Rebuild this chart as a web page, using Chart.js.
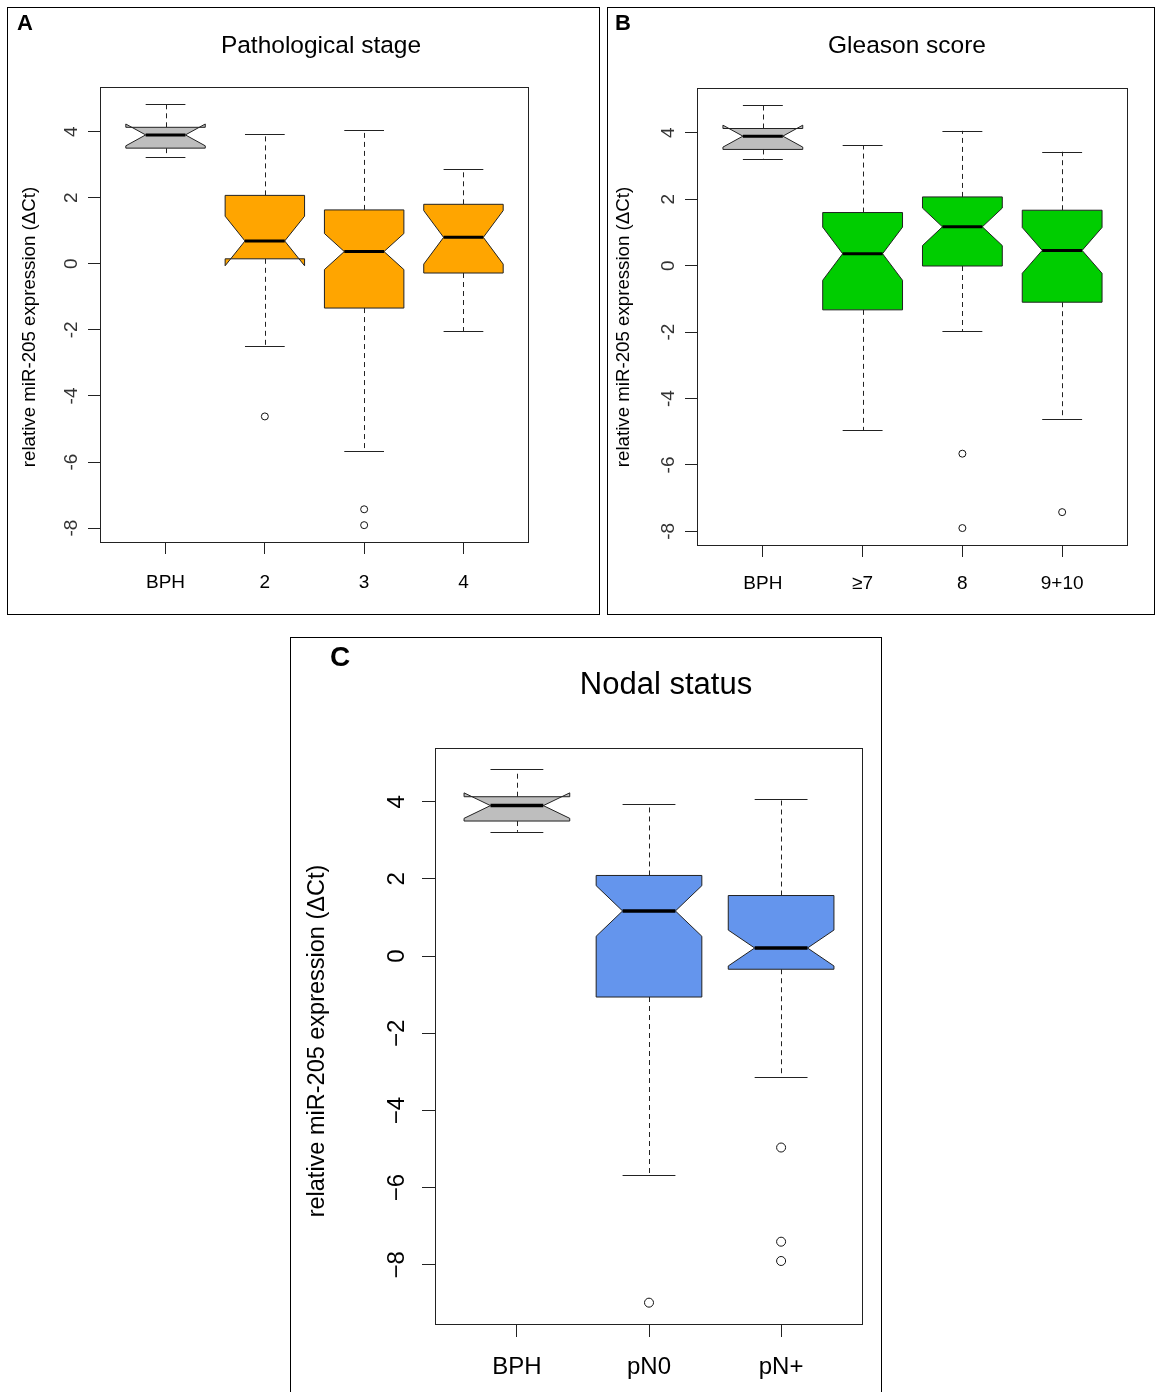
<!DOCTYPE html>
<html>
<head>
<meta charset="utf-8">
<script src="https://cdn.jsdelivr.net/npm/chart.js@4.4.1/dist/chart.umd.min.js"></script>
<style>
  html, body { margin: 0; padding: 0; background: #fff; overflow: hidden; width: 1155px; height: 1392px; }
  canvas { position: absolute; }
</style>
</head>
<body>
<canvas id="panelA" width="593" height="608" style="left:7px;top:7px"></canvas>
<canvas id="panelB" width="548" height="608" style="left:607px;top:7px"></canvas>
<canvas id="panelC" width="592" height="760" style="left:290px;top:637px"></canvas>
<script>
// ---- Panel A: pathological stage ----
const stageCategories = ['BPH', '2', '3', '4'];
const stageLow      = [3.22, -2.50, -5.68, -2.04];
const stageQ1       = [3.50,  0.15, -1.34, -0.28];
const stageMedian   = [3.90,  0.69,  0.37,  0.80];
const stageQ3       = [4.13,  2.07,  1.63,  1.80];
const stageHigh     = [4.84,  3.94,  4.05,  2.87];
const stageNotch    = [0.33,  0.75,  0.545, 0.81];   // half-height of the notch around the median
const stageOutliers = [[], [-4.62], [-7.43, -7.91], []];

// ---- Panel B: Gleason score ----
const gleasonCategories = ['BPH', '≥7', '8', '9+10'];
const gleasonLow      = [3.22, -4.95, -1.97, -4.61];
const gleasonQ1       = [3.50, -1.33, -0.01, -1.10];
const gleasonMedian   = [3.90,  0.36,  1.17,  0.46];
const gleasonQ3       = [4.13,  1.60,  2.07,  1.67];
const gleasonHigh     = [4.84,  3.63,  4.06,  3.43];
const gleasonNotch    = [0.33,  0.80,  0.565, 0.69];
const gleasonOutliers = [[], [], [-5.66, -7.90], [-7.42]];

// ---- Panel C: nodal status ----
const nodalCategories = ['BPH', 'pN0', 'pN+'];
const nodalLow      = [3.22, -5.66, -3.12];
const nodalQ1       = [3.50, -1.06, -0.34];
const nodalMedian   = [3.90,  1.17,  0.21];
const nodalQ3       = [4.13,  2.09,  1.57];
const nodalHigh     = [4.84,  3.94,  4.07];
const nodalNotch    = [0.33,  0.655, 0.465];
const nodalOutliers = [[], [-8.98], [-4.96, -7.40, -7.90]];

const yTickValues = [-8, -6, -4, -2, 0, 2, 4];
const yAxisTitle = 'relative miR-205 expression (ΔCt)';

const FONT = '"Liberation Sans", Arial, Helvetica, sans-serif';

// Notched box-and-whisker glyphs, placed through the chart's own x/y scales
const notchedBoxes = {
  id: 'notchedBoxes',
  beforeDatasetsDraw(chart, args, o) {
    const { ctx, scales: { x, y } } = chart;
    const half = 0.4, staple = 0.2, nf = 0.5;
    o.median.forEach((med, i) => {
      const c = i + 1;
      const px = v => x.getPixelForValue(v);
      const py = v => y.getPixelForValue(v);
      const lo = med - o.notch[i], hi = med + o.notch[i];
      const cx = Math.round(px(c)) + 0.5;
      ctx.save();
      ctx.strokeStyle = o.lineColor;
      ctx.lineWidth = 1;
      // dashed whiskers
      ctx.setLineDash([5, 4]);
      ctx.beginPath();
      ctx.moveTo(cx, py(o.q3[i])); ctx.lineTo(cx, py(o.high[i]));
      ctx.moveTo(cx, py(o.q1[i])); ctx.lineTo(cx, py(o.low[i]));
      ctx.stroke();
      ctx.setLineDash([]);
      // staples
      ctx.beginPath();
      [o.high[i], o.low[i]].forEach(v => {
        const yy = Math.round(py(v)) + 0.5;
        ctx.moveTo(px(c - staple), yy); ctx.lineTo(px(c + staple), yy);
      });
      ctx.stroke();
      // notched box outline
      const pts = [[-1, o.q1[i]], [1, o.q1[i]], [1, lo], [nf, med], [1, hi], [1, o.q3[i]],
                   [-1, o.q3[i]], [-1, hi], [-nf, med], [-1, lo]];
      ctx.beginPath();
      pts.forEach(([dx, v], k) => {
        const X = px(c + dx * half), Y = py(v);
        if (k === 0) ctx.moveTo(X, Y); else ctx.lineTo(X, Y);
      });
      ctx.closePath();
      ctx.fillStyle = o.fills[i];
      ctx.fill();
      ctx.strokeStyle = o.boxBorder;
      ctx.stroke();
      // median bar
      ctx.strokeStyle = '#000';
      ctx.lineWidth = o.medianWidth;
      ctx.lineCap = 'butt';
      ctx.beginPath();
      ctx.moveTo(px(c - nf * half), py(med));
      ctx.lineTo(px(c + nf * half), py(med));
      ctx.stroke();
      ctx.restore();
    });
  }
};

// Frames, panel letter, panel heading and the vertical axis caption
const panelText = {
  id: 'panelText',
  afterDraw(chart, args, o) {
    const { ctx, chartArea: a } = chart;
    ctx.save();
    ctx.strokeStyle = '#000';
    ctx.lineWidth = 1;
    ctx.strokeRect(0.5, 0.5, chart.width - 1, chart.height - 1);
    ctx.strokeStyle = '#222';
    ctx.strokeRect(a.left + 0.5, a.top + 0.5, a.right - a.left - 1, a.bottom - a.top);
    ctx.fillStyle = '#000';
    ctx.textBaseline = 'middle';
    ctx.textAlign = 'left';
    ctx.font = 'bold ' + o.letterSize + 'px ' + FONT;
    ctx.fillText(o.letter, o.letterX, o.letterY);
    ctx.textAlign = 'center';
    ctx.font = o.titleSize + 'px ' + FONT;
    ctx.fillText(o.title, o.titleX, o.titleY);
    ctx.translate(o.yTitleX, o.yTitleY);
    ctx.rotate(-Math.PI / 2);
    ctx.font = o.yTitleSize + 'px ' + FONT;
    ctx.fillText(o.yTitle, 0, 0);
    ctx.restore();
  }
};

function valueRange(low, high, outliers) {
  const all = [...low, ...high, ...outliers.flat()];
  const lo = Math.min(...all), hi = Math.max(...all);
  const pad = (hi - lo) * 0.04;
  return [lo - pad, hi + pad];
}

function makePanel(id, d, L) {
  const n = d.categories.length;
  const [yMin, yMax] = valueRange(d.low, d.high, d.outliers);
  const xPad = n * 0.04;
  const fills = d.categories.map((_, i) => i === 0 ? '#BEBEBE' : d.color);
  const tickFmt = v => L.unicodeMinus ? String(v).replace('-', '\u2212') : String(v);
  const grid = { display: true, drawOnChartArea: false, drawTicks: true, tickLength: L.tick, color: '#222', lineWidth: 1 };
  return new Chart(document.getElementById(id), {
    type: 'scatter',
    data: {
      datasets: [{
        data: d.outliers.flatMap((arr, i) => arr.map(v => ({ x: i + 1, y: v }))),
        pointStyle: 'circle',
        pointRadius: L.pointRadius,
        pointHoverRadius: L.pointRadius,
        pointBorderWidth: 1,
        borderColor: '#111',
        backgroundColor: 'rgba(0,0,0,0)'
      }]
    },
    options: {
      responsive: false,
      animation: false,
      events: [],
      layout: { padding: { top: L.top, right: L.right, left: 0, bottom: 0 } },
      plugins: {
        legend: { display: false },
        tooltip: { enabled: false },
        title: { display: false },
        notchedBoxes: {
          low: d.low, q1: d.q1, median: d.median, q3: d.q3, high: d.high, notch: d.notch,
          fills, lineColor: '#222', boxBorder: '#222', medianWidth: L.medianWidth
        },
        panelText: {
          letter: d.letter, title: d.title, letterSize: L.letterSize, letterX: L.letterX, letterY: L.letterY,
          titleSize: L.titleSize, titleX: L.titleX, titleY: L.titleY,
          yTitle: yAxisTitle, yTitleSize: L.yTitleSize, yTitleX: L.yTitleX, yTitleY: L.yTitleY
        }
      },
      scales: {
        x: {
          type: 'linear',
          min: 0.5 - xPad,
          max: n + 0.5 + xPad,
          afterBuildTicks: s => { s.ticks = d.categories.map((_, i) => ({ value: i + 1 })); },
          afterFit: s => { s.height = L.xHeight; },
          ticks: {
            callback: v => d.categories[v - 1],
            font: { family: FONT, size: L.fontSize },
            color: '#000',
            padding: L.xPad,
            autoSkip: false, minRotation: 0, maxRotation: 0
          },
          grid,
          border: { display: false }
        },
        y: {
          type: 'linear',
          min: yMin,
          max: yMax,
          afterBuildTicks: s => { s.ticks = yTickValues.map(v => ({ value: v })); },
          afterFit: s => { s.width = L.yWidth; },
          ticks: {
            callback: v => tickFmt(v),
            font: { family: FONT, size: L.tickFontSize },
            color: L.tickColor,
            minRotation: 90, maxRotation: 90,
            crossAlign: 'center',
            padding: L.yPad
          },
          grid,
          border: { display: false }
        }
      }
    },
    plugins: [notchedBoxes, panelText]
  });
}

makePanel('panelA', {
  categories: stageCategories, low: stageLow, q1: stageQ1, median: stageMedian, q3: stageQ3,
  high: stageHigh, notch: stageNotch, outliers: stageOutliers, color: '#FFA500',
  letter: 'A', title: 'Pathological stage'
}, {
  top: 80, right: 71, yWidth: 93, xHeight: 73, tick: 12, yPad: 8, xPad: 17,
  fontSize: 19, tickFontSize: 19, tickColor: '#333', pointRadius: 3.5, medianWidth: 3,
  letterSize: 22, letterX: 10, letterY: 17, titleSize: 24.5, titleX: 314, titleY: 39,
  yTitleSize: 18.7, yTitleX: 23, yTitleY: 320, unicodeMinus: false
});

makePanel('panelB', {
  categories: gleasonCategories, low: gleasonLow, q1: gleasonQ1, median: gleasonMedian, q3: gleasonQ3,
  high: gleasonHigh, notch: gleasonNotch, outliers: gleasonOutliers, color: '#00CD00',
  letter: 'B', title: 'Gleason score'
}, {
  top: 81, right: 27, yWidth: 90, xHeight: 70, tick: 12, yPad: 8, xPad: 15,
  fontSize: 19, tickFontSize: 19, tickColor: '#333', pointRadius: 3.5, medianWidth: 3,
  letterSize: 22, letterX: 8, letterY: 17, titleSize: 24.5, titleX: 300, titleY: 39,
  yTitleSize: 18.7, yTitleX: 17, yTitleY: 320, unicodeMinus: false
});

makePanel('panelC', {
  categories: nodalCategories, low: nodalLow, q1: nodalQ1, median: nodalMedian, q3: nodalQ3,
  high: nodalHigh, notch: nodalNotch, outliers: nodalOutliers, color: '#6495ED',
  letter: 'C', title: 'Nodal status'
}, {
  top: 111, right: 19, yWidth: 145, xHeight: 73, tick: 13, yPad: 11, xPad: 15.6,
  fontSize: 24, tickFontSize: 24, tickColor: '#000', pointRadius: 4.5, medianWidth: 3.5,
  letterSize: 28, letterX: 40, letterY: 21, titleSize: 31, titleX: 376, titleY: 48,
  yTitleSize: 23.5, yTitleX: 28, yTitleY: 404, unicodeMinus: true
});
</script>
</body>
</html>
